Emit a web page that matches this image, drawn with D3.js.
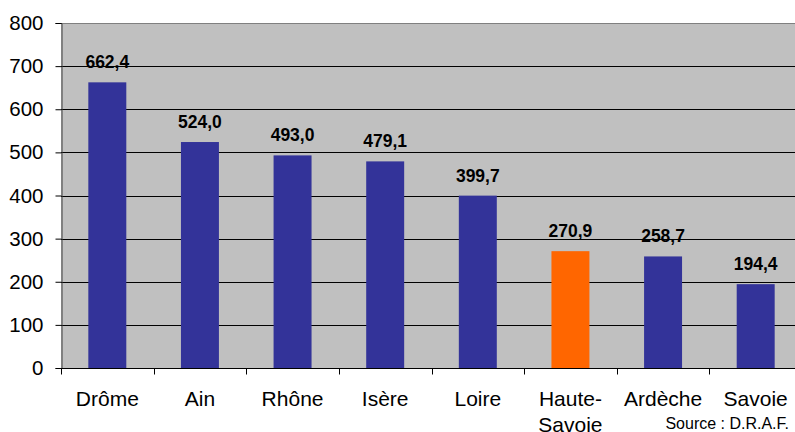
<!DOCTYPE html>
<html lang="fr">
<head>
<meta charset="utf-8">
<title>chart</title>
<script src="https://cdn.jsdelivr.net/npm/d3@7"></script>
<style>
  body { margin: 0; background: #fff; }
  text { font-family: "Liberation Sans", Arial, sans-serif; }
</style>
</head>
<body>
<script>
var width = 795, height = 432

// data
var departements = ["Drôme", "Ain", "Rhône", "Isère", "Loire", "Haute-Savoie", "Ardèche", "Savoie"]
var valeurs = [662.4, 524.0, 493.0, 479.1, 399.7, 270.9, 258.7, 194.4]
var yTicks = [0, 100, 200, 300, 400, 500, 600, 700, 800]
var highlight = "Haute-Savoie"

var svg = d3.select("body").append("svg").attr("width", width).attr("height", height)

// plot area (right side runs past the picture edge)
var pLeft = 61, pTop = 23, pBottom = 368, pRight = 802

var x = d3.scaleBand().domain(departements).range([pLeft, pRight]).paddingInner(0.59).paddingOuter(0.295)
var xb = d3.scaleBand().domain(departements).range([pLeft, pRight])
var y = d3.scaleLinear().domain([0, 800]).range([pBottom, pTop])

// plot background
svg.append("rect").attr("x", pLeft).attr("y", pTop).attr("width", pRight - pLeft).attr("height", pBottom - pTop)
  .style("fill", "#c0c0c0")
svg.append("line").attr("x1", pLeft).attr("x2", pRight).attr("y1", pTop + 0.5).attr("y2", pTop + 0.5)
  .style("stroke", "#808080")

// gridlines
svg.selectAll(".grid").data(yTicks.slice(1, -1)).enter().append("line")
  .attr("x1", pLeft).attr("x2", pRight)
  .attr("y1", function(d) { return Math.round(y(d)) + 0.5 })
  .attr("y2", function(d) { return Math.round(y(d)) + 0.5 })
  .style("stroke", "#000").style("stroke-width", 1)

// bars
svg.selectAll(".bar").data(departements).enter().append("rect")
  .attr("x", function(d) { return x(d) })
  .attr("y", function(d, i) { return y(valeurs[i]) })
  .attr("width", x.bandwidth())
  .attr("height", function(d, i) { return pBottom - y(valeurs[i]) })
  .style("fill", function(d) { return d == highlight ? "#ff6600" : "#333399" })

// value labels
svg.selectAll(".val").data(departements).enter().append("text")
  .attr("x", function(d) { return x(d) + x.bandwidth() / 2 })
  .attr("y", function(d, i) { return y(valeurs[i]) - 14 })
  .attr("text-anchor", "middle")
  .style("font-size", "17.5px").style("font-weight", "bold")
  .text(function(d, i) { return valeurs[i].toFixed(1).replace(".", ",") })

// y axis
var yAxis = svg.append("g").attr("transform", "translate(" + (pLeft + 0.5) + ",0)")
  .call(d3.axisLeft(y).tickValues(yTicks).tickSize(6).tickPadding(12))
yAxis.select(".domain").style("stroke", "#404040")
yAxis.selectAll("text").style("font-size", "20.5px").style("font-family", "Liberation Sans, Arial, sans-serif")

// x axis with ticks at band boundaries
var xAxisG = svg.append("g").attr("transform", "translate(0," + (pBottom + 0.5) + ")")
xAxisG.append("line").attr("x1", pLeft).attr("x2", pRight).style("stroke", "#000")
xAxisG.selectAll(".xt").data(departements).enter().append("line")
  .attr("x1", function(d) { return Math.round(xb(d)) + 0.5 })
  .attr("x2", function(d) { return Math.round(xb(d)) + 0.5 })
  .attr("y1", 0).attr("y2", 6).style("stroke", "#000")

xAxisG.selectAll(".xl").data(departements).enter().append("text")
  .attr("x", function(d) { return xb(d) + xb.bandwidth() / 2 })
  .attr("y", 37)
  .attr("text-anchor", "middle")
  .style("font-size", "21px")
  .each(function(d) {
    var parts = d == "Haute-Savoie" ? ["Haute-", "Savoie"] : [d]
    var t = d3.select(this)
    parts.forEach(function(p, k) {
      t.append("tspan").attr("x", xb(d) + xb.bandwidth() / 2).attr("dy", k == 0 ? 0 : 26).text(p)
    })
  })

svg.append("text").attr("x", 789).attr("y", 429).attr("text-anchor", "end")
  .style("font-size", "16px").text("Source : D.R.A.F.")
</script>
</body>
</html>
